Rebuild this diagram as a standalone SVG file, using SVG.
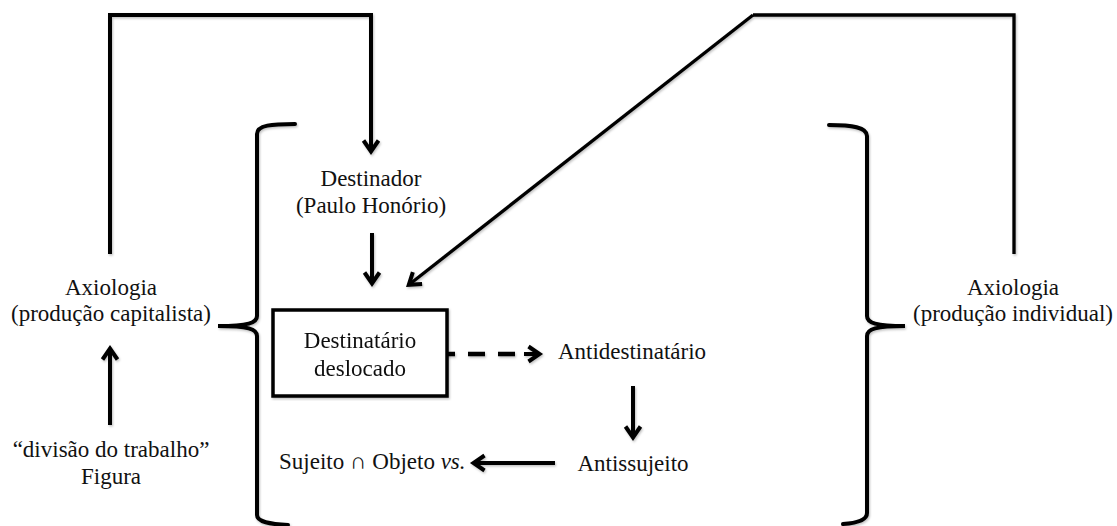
<svg xmlns="http://www.w3.org/2000/svg" width="1117" height="526" viewBox="0 0 1117 526">
  <style>
    text { font-family: "Liberation Serif", "Times New Roman", serif; font-size: 23px; fill: #111; }
    .c { text-anchor: middle; }
    .ln { fill: none; stroke: #000; stroke-width: 4; stroke-linejoin: miter; }
    .thin { stroke-width: 3.3; }
    .arr { marker-end: url(#chev); }
    .dash { stroke-dasharray: 17 13; stroke-width: 4.5; }
    .brace { fill: none; stroke: #000; stroke-width: 4; stroke-linecap: round; }
    .box { fill: #fff; stroke: #000; stroke-width: 3.5; }
    .shadow { filter: url(#soft); }
  </style>
  <defs>
    <!-- open chevron arrowhead; the path end sits 4px short of the visible tip -->
    <marker id="chev" markerUnits="userSpaceOnUse" orient="auto" refX="0" refY="0"
            markerWidth="40" markerHeight="40" overflow="visible">
      <path d="M-10.5,-7.5 L0.5,0 L-10.5,7.5" fill="none" stroke="#000" stroke-width="4" stroke-linejoin="miter"/>
    </marker>
    <filter id="soft" x="-5%" y="-5%" width="110%" height="110%">
      <feDropShadow dx="1" dy="1.5" stdDeviation="1" flood-color="#000" flood-opacity="0.25"/>
    </filter>
  </defs>

  <!-- connectors -->
  <g id="connectors" class="shadow">
    <!-- left axiology up and over to the sender -->
    <path class="ln arr" d="M110,254 L110,15 L371,15 L371,151"/>
    <!-- right axiology up, across and down to the displaced receiver -->
    <path class="ln thin" d="M1014,254 L1014,15 L753,15"/>
    <path class="ln thin arr" d="M753,15 L409.2,284.5"/>
    <!-- sender to receiver -->
    <path class="ln arr" d="M372,233 L372,283"/>
    <!-- division of labour up to left axiology -->
    <path class="ln arr" d="M110,425 L110,349"/>
    <!-- receiver to anti-receiver (dashed) -->
    <path class="ln dash" d="M438,354 L520,354"/>
    <path class="ln arr" d="M524,354 L539,354"/>
    <!-- anti-receiver to anti-subject -->
    <path class="ln arr" d="M633,386 L633,437"/>
    <!-- anti-subject to subject/object -->
    <path class="ln arr" d="M555,463 L474,463"/>
  </g>

  <!-- curly braces -->
  <g id="brace-left" class="shadow">
    <path class="brace" d="M295,124 C272,124 257,125 257,134 L257,316 C257,323 248,326 218,326 C248,326 257,329 257,336 L257,515 C257,522 270,524 288,525"/>
  </g>
  <g id="brace-right" class="shadow">
    <path class="brace" d="M829,125 C852,125 867,127 867,136 L867,316 C867,323 876,326 905,326 C876,326 867,329 867,336 L867,513 C867,520 858,523 843,524"/>
  </g>

  <g id="destinador">
    <text class="c" x="371" y="186">Destinador</text>
    <text class="c" x="371" y="213">(Paulo Honório)</text>
  </g>

  <g id="axiologia-capitalista">
    <text class="c" x="111" y="295">Axiologia</text>
    <text class="c" x="111" y="321">(produção capitalista)</text>
  </g>

  <g id="divisao-trabalho">
    <text class="c" x="111" y="457">“divisão do trabalho”</text>
    <text class="c" x="111" y="484">Figura</text>
  </g>

  <g id="axiologia-individual">
    <text class="c" x="1013" y="295">Axiologia</text>
    <text class="c" x="1013" y="321">(produção individual)</text>
  </g>

  <g id="destinatario" class="shadow">
    <rect class="box" x="273" y="310" width="174" height="86"/>
    <text class="c" x="360" y="348">Destinatário</text>
    <text class="c" x="360" y="376">deslocado</text>
  </g>

  <g id="antidestinatario">
    <text class="c" x="632" y="359">Antidestinatário</text>
  </g>

  <g id="antissujeito">
    <text class="c" x="633" y="471">Antissujeito</text>
  </g>

  <g id="sujeito-objeto">
    <text x="279" y="469">Sujeito ∩ Objeto <tspan font-style="italic">vs.</tspan></text>
  </g>
</svg>
